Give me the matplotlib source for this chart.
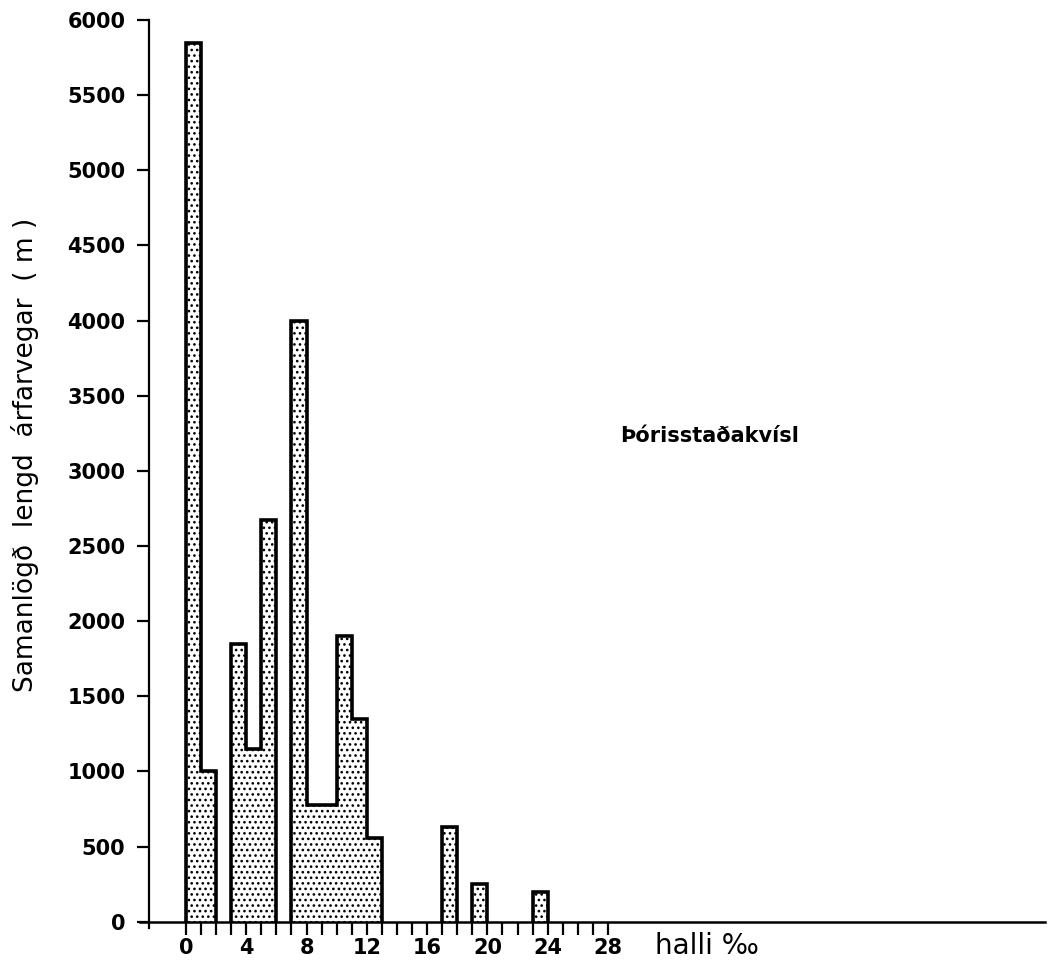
import numpy as np
import matplotlib.pyplot as plt

# Summed channel length per slope class (1 permille bins)
bin_edges = list(range(0, 25))
lengths = [5850, 1000, 0, 1850, 1150, 2670, 0, 4000, 775, 775,
           1900, 1350, 560, 0, 0, 0, 0, 630, 0, 250,
           0, 0, 0, 200]
x_major = list(range(0, 29, 4))
x_minor = list(range(0, 29))
y_ticks = list(range(0, 6001, 500))

plt.rcParams['font.family'] = ['DejaVu Sans']
plt.rcParams['hatch.linewidth'] = 1.1

fig = plt.figure(figsize=(10.51, 9.65), dpi=100)
ax = fig.add_axes([0.1332, 0.03865, 0.8611, 0.9406])

# draw each run of non-empty bins as its own outlined block
vals = np.array(lengths)
i = 0
while i < len(vals):
    if vals[i] > 0:
        j = i
        while j < len(vals) and vals[j] > 0:
            j += 1
        ax.stairs(vals[i:j], bin_edges[i:j + 1], fill=True, baseline=0,
                  facecolor='white', edgecolor='black', hatch='...',
                  linewidth=2.6)
        i = j
    else:
        i += 1

ax.set_xlim(-3.05, 57)
ax.set_ylim(-40, 6000)

for s in ['top', 'right']:
    ax.spines[s].set_visible(False)
ax.spines['left'].set_position(('data', -2.45))
ax.spines['bottom'].set_position(('data', 0))
ax.spines['left'].set_linewidth(1.6)
ax.spines['bottom'].set_linewidth(1.8)

ax.set_xticks(x_major)
ax.set_xticklabels([str(v) for v in x_major], fontsize=15, fontweight='bold')
ax.set_xticks(x_minor, minor=True)
ax.set_yticks(y_ticks)
ax.set_yticklabels([str(v) for v in y_ticks], fontsize=15, fontweight='bold')
ax.tick_params(axis='both', which='both', direction='out', length=9,
               width=1.6, pad=8)
ax.tick_params(axis='x', which='major', pad=3)

ax.set_ylabel('Samanlögð  lengd  árfarvegar  ( m )', fontsize=19)
ax.yaxis.set_label_coords(-0.112, 0.521)
ax.text(31.1, -160, 'halli ‰', fontsize=20, ha='left', va='center')
ax.text(28.8, 3230, 'Þórisstaðakvísl', fontsize=15, fontweight='bold',
        ha='left', va='center')

fig.savefig('out.png', dpi=100)
